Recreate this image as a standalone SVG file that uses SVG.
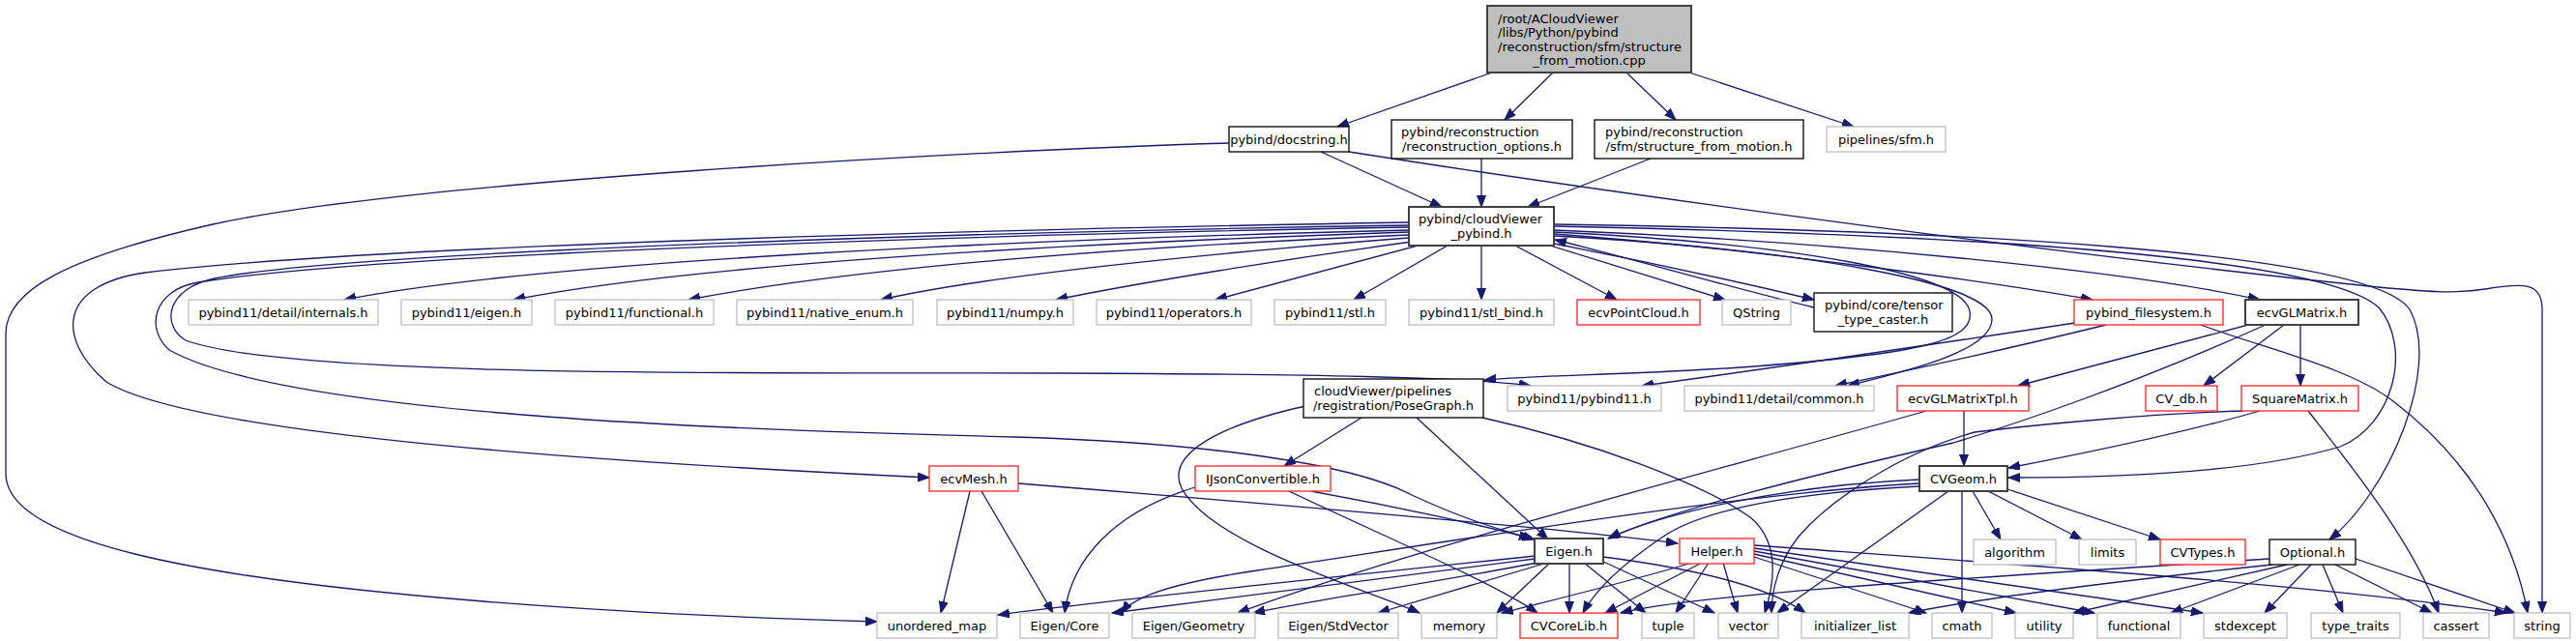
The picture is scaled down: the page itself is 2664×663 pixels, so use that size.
<svg xmlns="http://www.w3.org/2000/svg" width="2664" height="663" viewBox="0 0 2664 663">
<style>
text{font-family:"DejaVu Sans","Liberation Sans",sans-serif;font-size:13px;fill:#000}
.m{text-anchor:middle}
rect{fill:#fff;stroke-width:1.3}
.g rect{stroke:#bfbfbf}
.b rect{stroke:#000}
.d rect{stroke:#404040;stroke-width:2}
.r rect{stroke:#f22}
#edges path{fill:none;stroke:#191970;stroke-width:1.3;marker-end:url(#ah)}
</style>
<defs>
<marker id="ah" markerUnits="userSpaceOnUse" markerWidth="14" markerHeight="11" refX="12" refY="4.5" orient="auto">
<path d="M0,0 L12,4.5 L0,9 z" fill="#191970" stroke="#191970" stroke-width="1"/>
</marker>
</defs>
<rect width="2664" height="663" style="fill:#fff;stroke:none"/>
<g id="edges">
<path d="M1543,75 L1383,131"/>
<path d="M1606,75 L1556,124"/>
<path d="M1682,75 L1733,124"/>
<path d="M1747,75 L1917,131"/>
<path d="M1366,157 L1491,214"/>
<path d="M1532,164 L1532,214"/>
<path d="M1707,164 L1580,214"/>
<path d="M1271,148 C1000,156 420,188 220,232 C70,266 6,300 6,345 L6,490 C6,560 200,598 500,622 C650,634 800,640 907,643"/>
<path d="M1395,157 C1700,205 2150,265 2450,296 C2510,302 2540,304 2570,299 C2610,292 2629,292 2629,320 L2629,634"/>
<path d="M1457,238 C1050,248 560,270 356,310"/>
<path d="M1457,240 C1100,252 720,273 531,310"/>
<path d="M1457,243 C1150,256 880,278 712,310"/>
<path d="M1457,246 C1250,262 1020,285 911,310"/>
<path d="M1460,250 C1330,268 1180,292 1092,310"/>
<path d="M1466,254 L1257,310"/>
<path d="M1497,254 L1400,310"/>
<path d="M1532,254 L1532,310"/>
<path d="M1567,254 L1672,310"/>
<path d="M1603,254 L1784,310"/>
<path d="M1607,252 C1700,270 1800,292 1876,310"/>
<path d="M1876,318 C1780,295 1690,268 1608,248"/>
<path d="M1607,242 C1800,256 2050,290 2164,310"/>
<path d="M1607,238 C1900,250 2200,280 2337,310"/>
<path d="M1457,230 C1100,236 400,252 150,282 C60,295 58,350 110,395 C200,450 620,478 961,494"/>
<path d="M1457,233 C1000,240 360,260 222,288 C172,298 166,336 192,352 C300,392 800,385 1100,386 C1350,387 1520,390 1583,399"/>
<path d="M1457,235 C1000,243 380,263 205,292 C158,300 150,340 175,362 C300,432 800,446 1050,452 C1250,458 1400,480 1460,512 C1520,540 1560,550 1587,558"/>
<path d="M1607,240 C1850,252 2030,282 2037,322 C2042,352 1990,366 1800,380 C1680,388 1590,388 1535,393"/>
<path d="M1607,244 C1860,258 2060,292 2060,330 C2060,362 1980,382 1911,399"/>
<path d="M1607,234 C2000,242 2400,262 2460,318 C2495,360 2475,440 2420,462 C2320,492 2160,494 2077,494"/>
<path d="M1607,232 C2000,238 2450,258 2492,320 C2525,380 2470,510 2409,558"/>
<path d="M2146,334 C2000,356 1840,380 1698,399"/>
<path d="M2178,336 C2080,360 1980,382 1898,399"/>
<path d="M2276,336 C2340,360 2430,380 2475,415 C2560,480 2600,560 2614,634"/>
<path d="M2325,336 L2087,399"/>
<path d="M2362,336 L2279,399"/>
<path d="M2379,336 L2379,399"/>
<path d="M2343,336 C2200,400 2080,440 2020,458 C1880,490 1720,530 1663,557"/>
<path d="M2031,425 L2031,482"/>
<path d="M1992,425 C1800,480 1450,570 1280,634"/>
<path d="M2337,425 C2250,450 2150,470 2077,484"/>
<path d="M2320,425 C2220,428 2100,440 2042,447 C1960,470 1890,520 1860,555 C1840,580 1832,610 1832,634"/>
<path d="M2387,425 C2430,480 2495,560 2522,634"/>
<path d="M1408,432 L1328,482"/>
<path d="M1465,432 L1601,558"/>
<path d="M1350,420 C1260,440 1205,470 1222,505 C1255,565 1420,612 1468,634"/>
<path d="M1533,432 C1650,458 1760,500 1810,535 C1840,560 1836,600 1825,634"/>
<path d="M1985,496 C1850,502 1720,530 1664,557"/>
<path d="M1985,500 C1800,510 1500,560 1300,590 C1200,605 1170,620 1160,634"/>
<path d="M1985,503 C1850,510 1760,528 1720,555 C1680,582 1650,610 1637,634"/>
<path d="M2015,508 L1838,634"/>
<path d="M2029,508 L2029,634"/>
<path d="M2040,508 L2069,558"/>
<path d="M2056,508 L2153,558"/>
<path d="M2076,506 L2234,558"/>
<path d="M1587,575 C1400,595 1150,620 1032,636"/>
<path d="M1587,578 C1420,600 1250,622 1150,634"/>
<path d="M1590,582 C1470,605 1350,622 1296,634"/>
<path d="M1600,582 L1425,634"/>
<path d="M1603,582 L1548,634"/>
<path d="M1623,582 L1623,634"/>
<path d="M1638,582 L1702,634"/>
<path d="M1656,580 L1773,634"/>
<path d="M1658,576 C1720,584 1820,600 1867,634"/>
<path d="M1750,582 C1680,603 1600,622 1553,634"/>
<path d="M1760,582 L1660,634"/>
<path d="M1767,582 L1733,634"/>
<path d="M1782,582 L1797,634"/>
<path d="M1814,576 L1992,634"/>
<path d="M1814,573 L2085,634"/>
<path d="M1814,570 L2166,634"/>
<path d="M1814,567 L2278,634"/>
<path d="M1814,564 C2100,585 2400,605 2592,634"/>
<path d="M2347,578 C2000,600 1750,615 1676,634"/>
<path d="M2350,584 C2200,600 2050,618 1974,634"/>
<path d="M2365,584 L2144,634"/>
<path d="M2378,584 L2245,634"/>
<path d="M2390,584 L2342,634"/>
<path d="M2402,584 L2423,634"/>
<path d="M2415,584 L2515,634"/>
<path d="M2436,578 L2601,634"/>
<path d="M1236,504 C1150,530 1108,580 1101,634"/>
<path d="M1356,508 C1450,525 1540,545 1583,557"/>
<path d="M1333,508 C1420,550 1540,600 1590,634"/>
<path d="M1003,508 L973,634"/>
<path d="M1015,508 L1089,634"/>
<path d="M1053,500 C1300,520 1600,545 1735,562"/>
</g>
<g id="root" class="d"><rect x="1538" y="6" width="211" height="69" style="fill:#bfbfbf"/><text x="1549" y="23.5">/root/ACloudViewer</text><text x="1549" y="38">/libs/Python/pybind</text><text x="1549" y="52.5">/reconstruction/sfm/structure</text><text class="m" x="1643.5" y="67">_from_motion.cpp</text></g>
<g id="docstring" class="b"><rect x="1271" y="131" width="124" height="26"/><text class="m" x="1333" y="148.5">pybind/docstring.h</text></g>
<g id="recon_opts" class="b"><rect x="1439" y="124" width="187" height="40"/><text x="1449" y="141">pybind/reconstruction</text><text class="m" x="1532.5" y="155.5">/reconstruction_options.h</text></g>
<g id="sfm_h" class="b"><rect x="1649" y="124" width="216" height="40"/><text x="1660" y="141">pybind/reconstruction</text><text class="m" x="1757" y="155.5">/sfm/structure_from_motion.h</text></g>
<g id="pipelines_sfm" class="g"><rect x="1889" y="131" width="123" height="26"/><text class="m" x="1950.5" y="148.5">pipelines/sfm.h</text></g>
<g id="pybind" class="d"><rect x="1457" y="214" width="150" height="40"/><text x="1467" y="231">pybind/cloudViewer</text><text class="m" x="1532" y="245.5">_pybind.h</text></g>
<g id="internals" class="g"><rect x="195" y="310" width="196" height="26"/><text class="m" x="293" y="327.5">pybind11/detail/internals.h</text></g>
<g id="eigen_py" class="g"><rect x="415" y="310" width="135" height="26"/><text class="m" x="482.5" y="327.5">pybind11/eigen.h</text></g>
<g id="functional_py" class="g"><rect x="574" y="310" width="164" height="26"/><text class="m" x="656" y="327.5">pybind11/functional.h</text></g>
<g id="native_enum" class="g"><rect x="762" y="310" width="182" height="26"/><text class="m" x="853" y="327.5">pybind11/native_enum.h</text></g>
<g id="numpy" class="g"><rect x="969" y="310" width="141" height="26"/><text class="m" x="1039.5" y="327.5">pybind11/numpy.h</text></g>
<g id="operators" class="g"><rect x="1134" y="310" width="160" height="26"/><text class="m" x="1214" y="327.5">pybind11/operators.h</text></g>
<g id="stl" class="g"><rect x="1318" y="310" width="115" height="26"/><text class="m" x="1375.5" y="327.5">pybind11/stl.h</text></g>
<g id="stl_bind" class="g"><rect x="1457" y="310" width="150" height="26"/><text class="m" x="1532" y="327.5">pybind11/stl_bind.h</text></g>
<g id="ecvPointCloud" class="r"><rect x="1631" y="310" width="127" height="26"/><text class="m" x="1694.5" y="327.5">ecvPointCloud.h</text></g>
<g id="QString" class="g"><rect x="1781" y="310" width="71" height="26"/><text class="m" x="1816.5" y="327.5">QString</text></g>
<g id="tensor_caster" class="b"><rect x="1876" y="303" width="143" height="40"/><text x="1887" y="320">pybind/core/tensor</text><text class="m" x="1947.5" y="334.5">_type_caster.h</text></g>
<g id="pybind_fs" class="r"><rect x="2145" y="310" width="154" height="26"/><text class="m" x="2222" y="327.5">pybind_filesystem.h</text></g>
<g id="ecvGLMatrix" class="d"><rect x="2322" y="310" width="117" height="26"/><text class="m" x="2380.5" y="327.5">ecvGLMatrix.h</text></g>
<g id="PoseGraph" class="b"><rect x="1348" y="392" width="186" height="40"/><text x="1359" y="409">cloudViewer/pipelines</text><text class="m" x="1441" y="423.5">/registration/PoseGraph.h</text></g>
<g id="pybind11_h" class="g"><rect x="1559" y="399" width="159" height="26"/><text class="m" x="1638.5" y="416.5">pybind11/pybind11.h</text></g>
<g id="common_h" class="g"><rect x="1742" y="399" width="196" height="26"/><text class="m" x="1840" y="416.5">pybind11/detail/common.h</text></g>
<g id="ecvGLMatrixTpl" class="r"><rect x="1962" y="399" width="136" height="26"/><text class="m" x="2030" y="416.5">ecvGLMatrixTpl.h</text></g>
<g id="CV_db" class="r"><rect x="2219" y="399" width="74" height="26"/><text class="m" x="2256" y="416.5">CV_db.h</text></g>
<g id="SquareMatrix" class="r"><rect x="2318" y="399" width="121" height="26"/><text class="m" x="2378.5" y="416.5">SquareMatrix.h</text></g>
<g id="ecvMesh" class="r"><rect x="961" y="482" width="92" height="26"/><text class="m" x="1007" y="499.5">ecvMesh.h</text></g>
<g id="IJsonConvertible" class="r"><rect x="1236" y="482" width="140" height="26"/><text class="m" x="1306" y="499.5">IJsonConvertible.h</text></g>
<g id="CVGeom" class="d"><rect x="1985" y="482" width="91" height="26"/><text class="m" x="2030.5" y="499.5">CVGeom.h</text></g>
<g id="Eigen_h" class="d"><rect x="1587" y="557" width="71" height="26"/><text class="m" x="1622.5" y="574.5">Eigen.h</text></g>
<g id="Helper" class="r"><rect x="1737" y="557" width="77" height="26"/><text class="m" x="1775.5" y="574.5">Helper.h</text></g>
<g id="algorithm" class="g"><rect x="2041" y="558" width="85" height="26"/><text class="m" x="2083.5" y="575.5">algorithm</text></g>
<g id="limits" class="g"><rect x="2150" y="558" width="59" height="26"/><text class="m" x="2179.5" y="575.5">limits</text></g>
<g id="CVTypes" class="r"><rect x="2234" y="558" width="88" height="26"/><text class="m" x="2278" y="575.5">CVTypes.h</text></g>
<g id="Optional" class="b"><rect x="2347" y="558" width="89" height="26"/><text class="m" x="2391.5" y="575.5">Optional.h</text></g>
<g id="unordered_map" class="g"><rect x="907" y="634" width="124" height="26"/><text class="m" x="969" y="651.5">unordered_map</text></g>
<g id="Eigen_Core" class="g"><rect x="1055" y="634" width="92" height="26"/><text class="m" x="1101" y="651.5">Eigen/Core</text></g>
<g id="Eigen_Geometry" class="g"><rect x="1171" y="634" width="127" height="26"/><text class="m" x="1234.5" y="651.5">Eigen/Geometry</text></g>
<g id="Eigen_StdVector" class="g"><rect x="1322" y="634" width="124" height="26"/><text class="m" x="1384" y="651.5">Eigen/StdVector</text></g>
<g id="memory" class="g"><rect x="1470" y="634" width="78" height="26"/><text class="m" x="1509" y="651.5">memory</text></g>
<g id="CVCoreLib" class="r"><rect x="1572" y="634" width="101" height="26"/><text class="m" x="1622.5" y="651.5">CVCoreLib.h</text></g>
<g id="tuple" class="g"><rect x="1698" y="634" width="54" height="26"/><text class="m" x="1725" y="651.5">tuple</text></g>
<g id="vector" class="g"><rect x="1777" y="634" width="62" height="26"/><text class="m" x="1808" y="651.5">vector</text></g>
<g id="initializer_list" class="g"><rect x="1863" y="634" width="111" height="26"/><text class="m" x="1918.5" y="651.5">initializer_list</text></g>
<g id="cmath" class="g"><rect x="1998" y="634" width="62" height="26"/><text class="m" x="2029" y="651.5">cmath</text></g>
<g id="utility" class="g"><rect x="2084" y="634" width="60" height="26"/><text class="m" x="2114" y="651.5">utility</text></g>
<g id="functional" class="g"><rect x="2169" y="634" width="86" height="26"/><text class="m" x="2212" y="651.5">functional</text></g>
<g id="stdexcept" class="g"><rect x="2279" y="634" width="86" height="26"/><text class="m" x="2322" y="651.5">stdexcept</text></g>
<g id="type_traits" class="g"><rect x="2390" y="634" width="92" height="26"/><text class="m" x="2436" y="651.5">type_traits</text></g>
<g id="cassert" class="g"><rect x="2506" y="634" width="68" height="26"/><text class="m" x="2540" y="651.5">cassert</text></g>
<g id="string" class="g"><rect x="2600" y="634" width="58" height="26"/><text class="m" x="2629" y="651.5">string</text></g>
</svg>
